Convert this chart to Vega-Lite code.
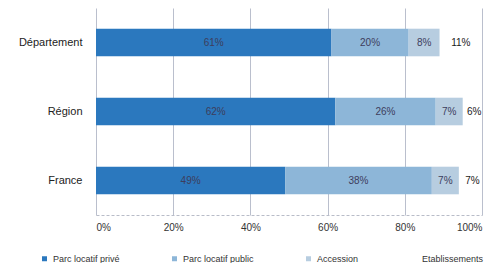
{
  "$schema": "https://vega.github.io/schema/vega-lite/v6.json",
  "autosize": "none",
  "width": 386,
  "height": 207,
  "padding": {"left": 96, "top": 8, "right": 17, "bottom": 48},
  "background": "white",
  "config": {
    "font": "Liberation Sans",
    "view": {"stroke": null}
  },
  "data": {
    "values": [
      {"zone": "Département", "type": "Parc locatif privé", "k": 1, "value": 61},
      {"zone": "Département", "type": "Parc locatif public", "k": 2, "value": 20},
      {"zone": "Département", "type": "Accession", "k": 3, "value": 8},
      {"zone": "Département", "type": "Etablissements", "k": 4, "value": 11},
      {"zone": "Région", "type": "Parc locatif privé", "k": 1, "value": 62},
      {"zone": "Région", "type": "Parc locatif public", "k": 2, "value": 26},
      {"zone": "Région", "type": "Accession", "k": 3, "value": 7},
      {"zone": "Région", "type": "Etablissements", "k": 4, "value": 6},
      {"zone": "France", "type": "Parc locatif privé", "k": 1, "value": 49},
      {"zone": "France", "type": "Parc locatif public", "k": 2, "value": 38},
      {"zone": "France", "type": "Accession", "k": 3, "value": 7},
      {"zone": "France", "type": "Etablissements", "k": 4, "value": 7}
    ]
  },
  "transform": [
    {"stack": "value", "groupby": ["zone"], "sort": [{"field": "k", "order": "ascending"}], "as": ["v0", "v1"]}
  ],
  "encoding": {
    "y": {
      "field": "zone",
      "type": "nominal",
      "sort": ["Département", "Région", "France"],
      "scale": {"paddingInner": 0.6, "paddingOuter": 0.3},
      "axis": {"title": null, "domain": false, "ticks": false, "labelFontSize": 11, "labelColor": "#222", "labelPadding": 14}
    }
  },
  "layer": [
    {
      "mark": {"type": "bar"},
      "encoding": {
        "x": {
          "field": "v0",
          "type": "quantitative",
          "scale": {"domain": [0, 100], "nice": false},
          "axis": {
            "title": null,
            "values": [0, 20, 40, 60, 80, 100],
            "labelExpr": "datum.value + '%'",
            "labelFontSize": 10,
            "labelColor": "#333",
            "labelPadding": 7,
            "ticks": false,
            "grid": true,
            "gridColor": "#a8aec0",
            "gridWidth": 0.8,
            "domainColor": "#b8bcc8",
            "domainDash": [3, 2]
          }
        },
        "x2": {"field": "v1"},
        "color": {
          "field": "type",
          "type": "nominal",
          "scale": {
            "domain": ["Parc locatif privé", "Parc locatif public", "Accession", "Etablissements"],
            "range": ["#2b78be", "#8db6d8", "#b7cde0", "rgba(255,255,255,0)"]
          },
          "legend": {
            "title": null,
            "orient": "none",
            "direction": "horizontal",
            "legendX": -56,
            "legendY": 246,
            "labelFontSize": 9,
            "labelColor": "#333",
            "symbolType": "square",
            "symbolSize": 25,
            "symbolStrokeWidth": 0,
            "columnPadding": 50
          }
        }
      }
    },
    {
      "transform": [{"calculate": "(datum.v0 + datum.v1) / 2", "as": "mid"}],
      "mark": {"type": "text", "fontSize": 10, "text": {"expr": "datum.value + '%'"}},
      "encoding": {
        "x": {"field": "mid", "type": "quantitative"},
        "color": {"condition": {"test": "datum.k == 4", "value": "#1a1a1a"}, "value": "#3d3d5c"},
        "fontWeight": {"condition": {"test": "datum.k == 4", "value": "bold"}, "value": "normal"}
      }
    }
  ]
}
